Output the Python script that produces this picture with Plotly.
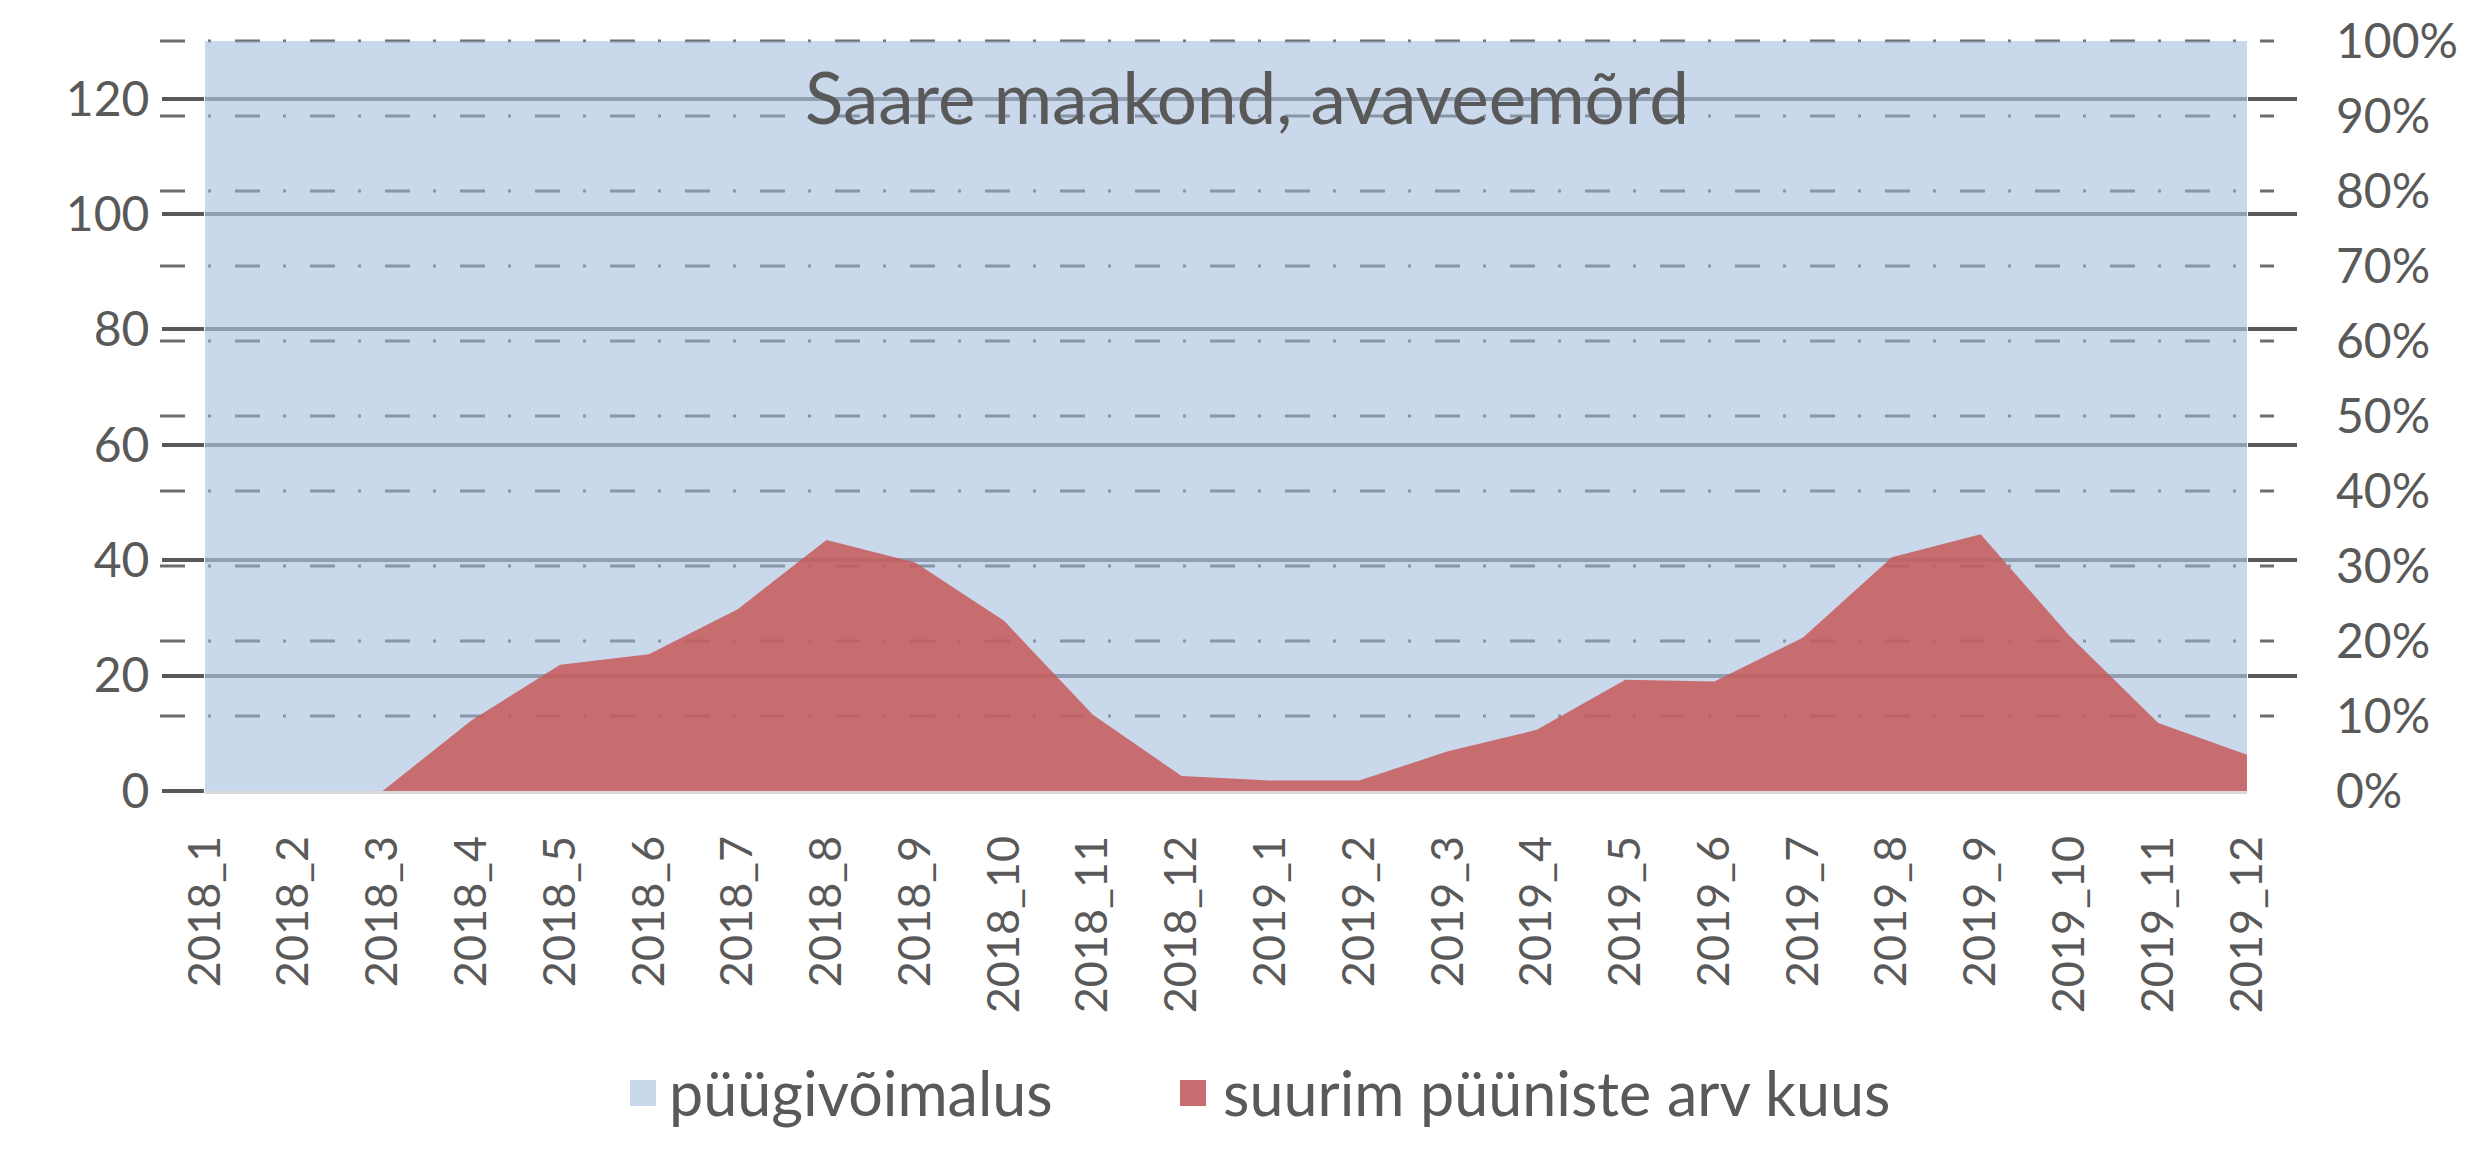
import plotly.graph_objects as go

# ---- data ----
months = ["2018_1", "2018_2", "2018_3", "2018_4", "2018_5", "2018_6", "2018_7", "2018_8",
          "2018_9", "2018_10", "2018_11", "2018_12", "2019_1", "2019_2", "2019_3", "2019_4",
          "2019_5", "2019_6", "2019_7", "2019_8", "2019_9", "2019_10", "2019_11", "2019_12"]
pyugivoimalus = [1.0, 1.0, 1.0, 1.0, 1.0, 1.0, 1.0, 1.0, 1.0, 1.0, 1.0, 1.0,
                 1.0, 1.0, 1.0, 1.0, 1.0, 1.0, 1.0, 1.0, 1.0, 1.0, 1.0, 1.0]
suurim_pyuniste_arv = [0, 0, 0, 12.2, 21.9, 23.7, 31.5, 43.5, 39.6, 29.5, 13.2, 2.6,
                       1.8, 1.8, 6.9, 10.6, 19.3, 19.0, 26.6, 40.5, 44.5, 26.9, 11.8, 6.3]
left_ticks = [0, 20, 40, 60, 80, 100, 120]
right_ticks = [0.1, 0.2, 0.3, 0.4, 0.5, 0.6, 0.7, 0.8, 0.9, 1.0]
title_text = "Saare maakond, avaveemõrd"
legend_names = ["püügivõimalus", "suurim püüniste arv kuus"]

W, H = 2471, 1160
L, R, T, B = 197, 2239, 33, 783  # plot area in px

def px_x(px):
    return (px - L) / (R - L)

def px_y(py):
    return (B - py) / (B - T)

FONT = "Lato"
TXT = "#595959"
BLUE_FILL = "rgba(156,183,216,0.54)"
RED_FILL = "rgba(199,90,91,0.85)"

fig = go.Figure()
fig.add_trace(go.Scatter(
    x=months, y=pyugivoimalus, name=legend_names[0], mode="none",
    fill="tozeroy", fillcolor=BLUE_FILL, yaxis="y", showlegend=False,
))
fig.add_trace(go.Scatter(
    x=months, y=suurim_pyuniste_arv, name=legend_names[1], mode="none",
    fill="tozeroy", fillcolor=RED_FILL, yaxis="y2", showlegend=False,
))

fig.update_layout(
    width=W, height=H,
    margin=dict(l=L, r=W - R, t=T, b=H - B, pad=0, autoexpand=False),
    paper_bgcolor="white", plot_bgcolor="white",
    font=dict(family=FONT, color=TXT, size=48),
    xaxis=dict(
        type="category", range=[0, len(months) - 1], automargin=False,
        tickangle=-90, tickfont=dict(size=45, color=TXT),
        showgrid=False, zeroline=False,
        showline=True, linecolor="#d9d9d9", linewidth=3,
        ticks="", ticklabelstandoff=24,
    ),
    yaxis=dict(
        side="right", range=[0, 1], tickmode="linear", tick0=0, dtick=0.1,
        tickformat=".0%", tickfont=dict(size=48, color=TXT), automargin=False,
        ticks="", showgrid=False,
        zeroline=False, showline=False,
        ticklabelstandoff=88,
        minor=dict(tickmode="linear", tick0=0, dtick=20 / 130, ticks="outside",
                   ticklen=49, tickwidth=4, tickcolor=TXT, showgrid=False),
    ),
    yaxis2=dict(
        side="left", overlaying="y", range=[0, 130], automargin=False,
        tickmode="array", tickvals=left_ticks,
        tickfont=dict(size=48, color=TXT),
        ticks="outside", ticklen=42, tickwidth=4, tickcolor=TXT,
        showgrid=True, gridcolor="#808080", gridwidth=4,
        zeroline=False, showline=False,
        ticklabelstandoff=3,
    ),
    showlegend=False,
)

# dash-dot gridlines of the percentage axis, extending slightly past the plot area
for v in right_ticks:
    fig.add_shape(type="line", xref="paper", yref="paper",
                  x0=px_x(152), x1=px_x(2266), y0=v, y1=v, layer="below",
                  line=dict(color="#6e6e6e", width=3, dash="25px,23px,3px,24px"))

# title inside plot
fig.add_annotation(text=title_text, xref="paper", yref="paper",
                   x=px_x(1239), y=px_y(88), xanchor="center", yanchor="middle",
                   showarrow=False, font=dict(family=FONT, size=71, color=TXT))

# custom legend
legend_items = [
    (legend_names[0], "#c9d8ea", 622, 648, 659),
    (legend_names[1], "#c76d70", 1172, 1198, 1213),
]
for name, col, sx0, sx1, tx in legend_items:
    fig.add_shape(type="rect", xref="paper", yref="paper",
                  x0=px_x(sx0), x1=px_x(sx1), y0=px_y(1098), y1=px_y(1072),
                  fillcolor=col, line=dict(width=0))
    fig.add_annotation(text=name, xref="paper", yref="paper",
                       x=px_x(tx), y=px_y(1084), xanchor="left", yanchor="middle",
                       showarrow=False, font=dict(family=FONT, size=61, color=TXT))

fig.write_html("out.html")
